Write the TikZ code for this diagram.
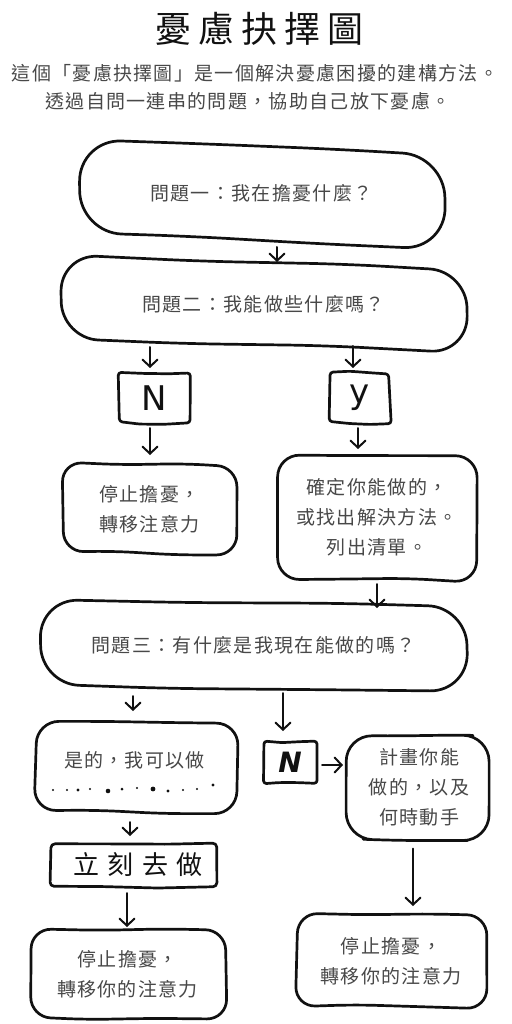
\documentclass[tikz,border=0pt]{standalone}
\usepackage{fontspec}
\usetikzlibrary{calc,arrows.meta}
\newfontfamily\cjk[LetterSpace=7]{Noto Sans CJK TC}
\newfontfamily\cjktitle[LetterSpace=19]{Noto Sans CJK TC}
\newfontfamily\cjkbig[LetterSpace=32]{Noto Sans CJK TC}
\newfontfamily\latinhand{DejaVu Sans}
\definecolor{txt}{HTML}{484848}
\definecolor{ink}{HTML}{111111}
% #1 node, #2 corner radius, #3 jitter, #4 tilt
\newcommand\handbox[4]{%
\draw[hand,rounded corners=#2pt]
 ($(#1.north west)!0.35!(#1.north east)+({#3*rand},{-0.3*#4+#3*rand})$)
 -- ($(#1.north west)!0.7!(#1.north east)+({#3*rand},{0.4*#4+#3*rand})$)
 -- ($(#1.north east)+({#3*rand},{#4+#3*rand})$)
 -- ($(#1.south east)+({#3*rand},{#4+#3*rand})$)
 -- ($(#1.south west)!0.65!(#1.south east)+({#3*rand},{0.3*#4+#3*rand})$)
 -- ($(#1.south west)!0.3!(#1.south east)+({#3*rand},{-0.4*#4+#3*rand})$)
 -- ($(#1.south west)+({#3*rand},{-#4+#3*rand})$)
 -- ($(#1.north west)+({#3*rand},{-#4+#3*rand})$)
 -- cycle;}
\begin{document}
\begin{tikzpicture}[x=1pt,y=-1pt,
  hand/.style={line width=2.7pt,line join=round,draw=ink},
  bx/.style={inner sep=0pt,outer sep=0pt,text=txt,align=center,
    font=\cjk\fontsize{19}{30}\selectfont},
  arr/.style={line width=2pt,draw=ink,line cap=round,
    -{Straight Barb[length=7pt,width=15pt,line width=2pt,line cap=round]}},
  letter/.style={inner sep=0pt,outer sep=0pt,text=ink}]
\pgfmathsetseed{11}
\useasboundingbox[fill=white] (0,0) rectangle (511,1024);
% title and intro
\node[text=ink,font=\cjktitle\fontsize{36}{40}\selectfont] (title) at (256,29) {\hspace*{7pt}憂慮抉擇圖};
\node[text=txt,font=\cjk\fontsize{19}{22}\selectfont] (intro1) at (255,73) {這個「憂慮抉擇圖」是一個解決憂慮困擾的建構方法。};
\node[text=txt,font=\cjk\fontsize{19}{22}\selectfont] (intro2) at (248,101) {透過自問一連串的問題，協助自己放下憂慮。};
% nodes
\node[bx,minimum width=367pt,minimum height=93pt] (Q1) at (261.5,193.5) {問題一：我在擔憂什麼？};
\node[bx,minimum width=407pt,minimum height=82pt] (Q2) at (263.5,304) {問題二：我能做些什麼嗎？};
\node[letter,minimum width=72pt,minimum height=50pt,font=\latinhand\fontsize{34}{36}\selectfont] (N1) at (154,398) {N};
\node[letter,minimum width=60pt,minimum height=50pt,font=\latinhand\fontsize{34}{36}\selectfont] (Y1) at (360,398) {\raisebox{4pt}{y}};
\node[bx,minimum width=175pt,minimum height=88pt] (A) at (149.5,509) {停止擔憂，\\轉移注意力};
\node[bx,minimum width=200pt,minimum height=125pt] (B) at (377,517.5) {確定你能做的，\\或找出解決方法。\\列出清單。};
\node[bx,minimum width=427pt,minimum height=85pt] (Q3) at (253.5,645.5) {問題三：有什麼是我現在能做的嗎？};
\node[bx,minimum width=202pt,minimum height=89pt] (C) at (136,767.5) {};
\node[bx] (Ct) at (134.5,760) {是的，我可以做};
\node[letter,minimum width=54pt,minimum height=41pt,font=\latinhand\bfseries\itshape\fontsize{28}{30}\selectfont] (N2) at (290,762.5) {N};
\node[bx,minimum width=142pt,minimum height=105pt] (D) at (419,787) {計畫你能\\做的，以及\\何時動手};
\node[bx,minimum width=168pt,minimum height=44pt,text=ink,font=\cjkbig\fontsize{26}{28}\selectfont] (E) at (134,865) {\hspace*{8pt}立刻去做};
\node[bx,minimum width=195pt,minimum height=88pt] (F) at (127.5,974) {停止擔憂，\\轉移你的注意力};
\node[bx,minimum width=188pt,minimum height=92pt] (G) at (391,961) {停止擔憂，\\轉移你的注意力};
% outlines
\handbox{Q1}{42}{2}{8}
\handbox{Q2}{37}{2}{7}
\handbox{N1}{3}{1.5}{0}
\handbox{Y1}{3}{1.5}{2}
\handbox{A}{20}{2}{1}
\handbox{B}{22}{2}{1}
\handbox{Q3}{38}{2}{2}
\handbox{C}{22}{2}{1}
\handbox{N2}{3}{1}{0}
\handbox{D}{26}{2}{0}
\handbox{E}{4}{1.5}{0}
\handbox{F}{20}{2}{1}
\handbox{G}{20}{2}{1}
% dots
\foreach \x/\y/\r in {53/790/1.1,67/790/1.1,78/790/1.6,90/789/1.1,108/791/2.3,122/789/1.5,137/788/1.1,153/789/2.4,168/791/1.7,183/790/1.2,197/789/1.1,213/785/1.6}
  \fill[ink] (\x,\y) circle[radius=\r pt];
% connectors
\draw[arr] ([xshift=15.5pt,yshift=-7pt]Q1.south) -- ([xshift=13.5pt,yshift=1pt]Q2.north);
\draw[arr] ([xshift=-113.5pt,yshift=-2pt]Q2.south) -- ([xshift=-4pt,yshift=5pt]N1.north);
\draw[arr] ([xshift=89.5pt,yshift=-1pt]Q2.south) -- ([xshift=-7pt,yshift=5pt]Y1.north);
\draw[arr] ([xshift=-4pt,yshift=-5pt]N1.south) -- ([xshift=0.5pt,yshift=10pt]A.north);
\draw[arr] ([xshift=-2pt,yshift=-5pt]Y1.south) -- ([xshift=-19pt,yshift=6pt]B.north);
\draw[arr] ([yshift=-4pt]B.south) -- ([xshift=123.5pt,yshift=-5pt]Q3.north);
\draw[arr] ([xshift=-120.5pt,yshift=-8pt]Q3.south) -- ([xshift=-3pt,yshift=12pt]C.north);
\draw[arr] ([xshift=29.5pt,yshift=-5pt]Q3.south) -- ([xshift=-7pt,yshift=11pt]N2.north);
\draw[arr] ([xshift=5pt,yshift=-2.5pt]N2.east) -- ([xshift=-5pt,yshift=22pt]D.west);
\draw[arr] ([xshift=-6pt,yshift=-10pt]C.south) -- ([xshift=-4pt,yshift=7pt]E.north);
\draw[arr] ([xshift=-7pt,yshift=-6pt]E.south) -- ([xshift=-0.5pt,yshift=3pt]F.north);
\draw[arr] ([xshift=-6pt,yshift=-9pt]D.south) -- ([xshift=22pt,yshift=9pt]G.north);
\end{tikzpicture}
\end{document}
